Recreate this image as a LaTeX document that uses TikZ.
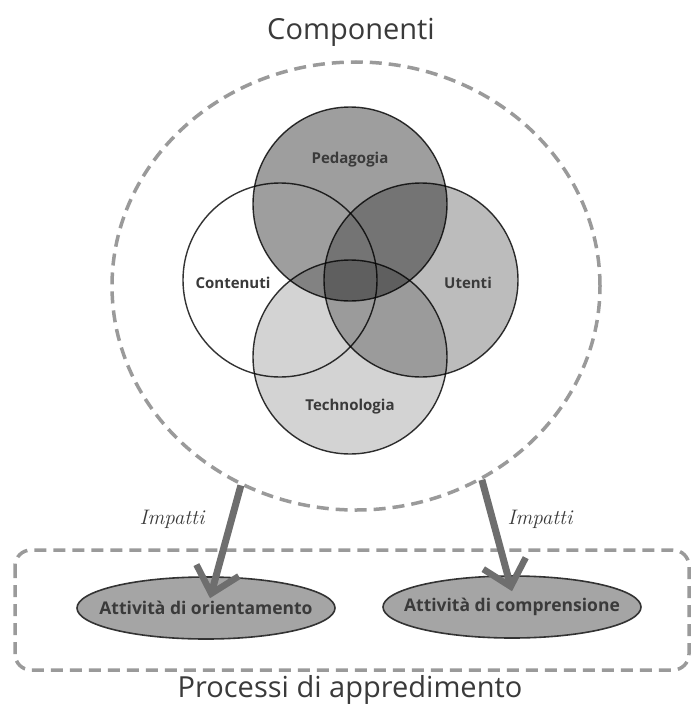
\documentclass[tikz,border=0pt]{standalone}
\usepackage{fontspec}
\setmainfont{Open Sans}
\newfontfamily\lmit{Latin Modern Roman}
\usetikzlibrary{arrows.meta,shapes.geometric}
\definecolor{txt}{HTML}{3A3A3A}
\definecolor{dash}{HTML}{9A9A9A}
\definecolor{ped}{HTML}{9E9E9E}
\definecolor{ute}{HTML}{BCBCBC}
\definecolor{tec}{HTML}{D3D3D3}
\definecolor{act}{HTML}{A5A5A5}
\definecolor{arr}{HTML}{6E6E6E}
\tikzset{
  venn/.style={circle, draw=black!80, line width=1.4pt, minimum size=194pt, inner sep=0pt},
  vlabel/.style={text=txt, font=\fontsize{15}{17}\selectfont\bfseries},
  dashline/.style={draw=dash, line width=3.5pt, dash pattern=on 12pt off 7pt},
  activity/.style={ellipse, draw=black!80, line width=1.6pt, fill=act, minimum width=258pt, minimum height=62pt, inner sep=0pt},
  actlabel/.style={text=txt, font=\fontsize{17.5}{19}\selectfont\bfseries},
  impact/.style={draw=arr, line width=7pt, -{Straight Barb[length=24pt,width=44pt,line width=6.5pt]}},
  implabel/.style={text=txt, font=\fontsize{21}{23}\selectfont\lmit\itshape},
  title/.style={text=txt, font=\fontsize{29}{32}\selectfont}
}
\begin{document}
\begin{tikzpicture}[x=1pt,y=-1pt]
\useasboundingbox[fill=white] (0,0) rectangle (691,709);
% titles
\node[title] (comp) at (351,32) {Componenti};
\node[title] (proc) at (350,690) {Processi di appredimento};
% outer dashed ellipse
\node[ellipse, dashline, minimum width=488pt, minimum height=448pt, inner sep=0pt] (outer) at (356,286) {};
% Venn circles
\begin{scope}[blend mode=multiply]
\node[venn, fill=white] (cont) at (280,280) {};
\node[venn, fill=ped] (peda) at (350,204) {};
\node[venn, fill=ute] (uten) at (421,280) {};
\node[venn, fill=tec] (tech) at (350,357) {};
\end{scope}
\node[vlabel] (lpeda) at (350,160) {Pedagogia};
\node[vlabel] (lcont) at (233,283) {Contenuti};
\node[vlabel] (luten) at (468,283) {Utenti};
\node[vlabel] (ltech) at (350,407) {Technologia};
% bottom dashed box
\draw[dashline, rounded corners=16pt] (15,550) rectangle (689,670);
% activities
\node[activity] (ori) at (206,608) {};
\node[activity] (cmp) at (512,607) {};
% arrows
\draw[impact] (outer.240) -- ([shift={(4,22)}]ori.north);
\draw[impact] (outer.-57) -- ([shift={(0,16)}]cmp.north);
\node[actlabel] (tori) at (ori.center) {Attività di orientamento};
\node[actlabel] (tcmp) at (cmp.center) {Attività di comprensione};
\node[implabel] (imp1) at (172,519) {Impatti};
\node[implabel] (imp2) at (540,519) {Impatti};
\end{tikzpicture}
\end{document}
